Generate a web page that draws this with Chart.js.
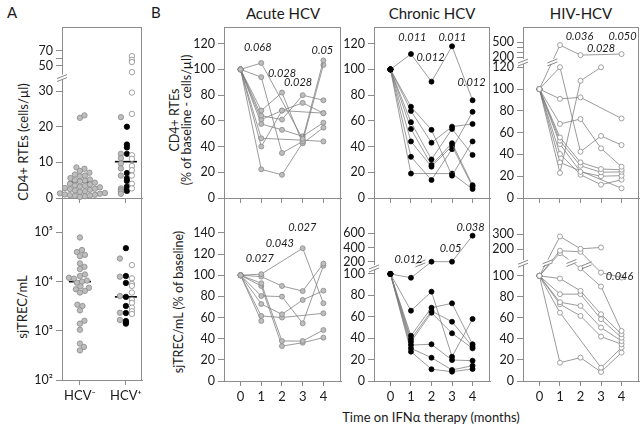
<!DOCTYPE html>
<html>
<head>
<meta charset="utf-8">
<script src="https://cdn.jsdelivr.net/npm/chart.js@4.4.0/dist/chart.umd.min.js"></script>
<style>
  body { margin: 0; width: 643px; height: 431px; position: relative; overflow: hidden; background: #fff; font-family: Lato, sans-serif; color: #1a1a1a; }
  canvas { position: absolute; }
  .t { position: absolute; white-space: nowrap; line-height: 1; }
  .rot { transform: translate(-50%, -50%) rotate(-90deg); }
  .ctr { transform: translate(-50%, -50%); }
</style>
</head>
<body>
<div class="t" style="left:7px;top:5px;font-size:15px">A</div>
<div class="t" style="left:151px;top:5px;font-size:15px">B</div>
<div class="t ctr" style="left:283px;top:13px;font-size:15px">Acute HCV</div>
<div class="t ctr" style="left:432px;top:13px;font-size:15px">Chronic HCV</div>
<div class="t ctr" style="left:581px;top:13px;font-size:15px">HIV-HCV</div>
<div class="t rot" style="left:23px;top:142px;font-size:13px">CD4+ RTEs (cells/µl)</div>
<div class="t rot" style="left:22px;top:307px;font-size:13px">sjTREC/mL</div>
<div class="t rot" style="left:175px;top:120px;font-size:12.5px">CD4+ RTEs</div>
<div class="t rot" style="left:187px;top:120px;font-size:12.5px">(% of baseline - cells/µl)</div>
<div class="t rot" style="left:179px;top:302px;font-size:12.5px">sjTREC/mL (% of baseline)</div>
<div class="t ctr" style="left:431px;top:417px;font-size:13px">Time on IFNα therapy (months)</div>
<script>
// ---------- data ----------
const MONTHS = [0, 1, 2, 3, 4];
const GROUPS = ["HCV⁻", "HCV⁺"];

// panel A, CD4+ RTEs (cells/µl)
const RTE_HCVNEG = [22.5, 23.2, 8.6, 8.2, 7.6, 7.1, 6.6, 6.1, 5.6, 5.2, 4.9, 4.6, 4.3, 4.0, 3.8, 3.5, 3.2, 3.0, 2.8, 2.5, 2.3, 2.1, 1.9, 1.7, 1.5, 1.3, 1.2, 1.0, 0.9, 0.8, 0.6, 0.5, 0.3, 6.3, 5.0, 3.4, 2.6, 1.4, 0.7];
const RTE_HCVPOS_GRAY = [22.7, 12.4, 11.2, 9.7, 8.3, 6.3, 2.7, 2.2, 1.8, 1.2];
const RTE_HCVPOS_BLACK = [20.0, 15.0, 14.2, 12.4, 7.0, 5.5, 4.8, 3.2, 2.5, 2.0];
const RTE_HCVPOS_WHITE = [63, 58, 55, 45, 29.6, 23.6, 12, 11, 9, 7.8, 6.3, 4, 2.7];
const RTE_MEDIANS = [4.5, 10.2];
const RTE_TICKS = [0, 10, 20, 30, 50, 60, 70];
const RTE_TICK_LABELS = ["0", "10", "20", "30", "50", "", "70"];

// panel A, sjTREC/mL
const TREC_HCVNEG = [79000, 44000, 40000, 35000, 33000, 23500, 20000, 18000, 14000, 13000, 12000, 11500, 10500, 10000, 9500, 8000, 7500, 7000, 6500, 6000, 3400, 3200, 2600, 1600, 1400, 1050, 550, 470, 400];
const TREC_HCVPOS_GRAY = [29500, 12600, 5100, 2330, 1660];
const TREC_HCVPOS_BLACK = [48000, 13000, 9400, 4900, 3200, 2300, 1580, 1480, 1400];
const TREC_HCVPOS_WHITE = [21700, 11700, 9000, 8200, 6000, 4250, 3700, 2950, 2500, 2200];
const TREC_MEDIANS = [10000, 4900];
const LOG_TICKS = [100, 1000, 10000, 100000];
const LOG_TICK_LABELS = ["10²", "10³", "10⁴", "10⁵"];

// panel B, % of baseline, one row per patient (months 0..4)
const ACUTE_RTE = [
  [100, 105, null, 46, 107],
  [100, 94, 35, 44, 103.5],
  [100, 68, 82, 42.5, 54.7],
  [100, 64, 61, 80, 76],
  [100, 61, 68, 74, 66],
  [100, 57.6, 53, 48, 58.6],
  [100, 46.4, null, 45, 44],
  [100, 40, 68, null, 66],
  [100, 22.3, 18, 43, null]
];
const CHRONIC_RTE = [
  [100, 112, 90.5, 118, 76],
  [100, 71, 53, 17.4, 44],
  [100, 67.7, 43, 55.5, 57.6],
  [100, 59, 30, 53.7, 33.5],
  [100, 53.7, 25.7, 42.6, 10],
  [100, 44, 24.4, 40.5, 8.8],
  [100, 32, 14, 38, 67],
  [100, 19, null, 19, 7]
];
const HIV_RTE = [
  [100, 443, 240, null, 260],
  [100, 121, 42.5, 57, 48.6],
  [100, 91, 92.4, null, 73],
  [100, 68, 72.5, 45.6, 28.7],
  [100, 55.6, 32.7, 26.6, 26],
  [100, 52.6, 29.6, 23.6, 24],
  [100, 49.5, 24, 20, 20.5],
  [100, 40.4, 21.4, 12.2, 16.8],
  [100, 32.7, null, null, 8.9],
  [100, 23, 107.6, 120, null]
];
const ACUTE_TREC = [
  [100, 101, null, 125.5, 73.5],
  [100, 98.7, 89.8, 85, 111],
  [100, 92.4, 37.8, 37.8, 48.2],
  [100, 89.8, 33, 36.2, 41],
  [100, 80.4, 79.8, 54.5, 109],
  [100, 72.8, 63, 76.6, 85.4],
  [100, 61.5, 60, null, 64],
  [100, 56.8, null, null, null]
];
const CHRONIC_TREC = [
  [100, 96.5, 200, 200, 568],
  [100, 65.7, 83.5, 22.7, 58],
  [100, 42.3, 68.5, 72.6, 34.3],
  [100, 39.2, 65.4, 55.4, 32],
  [100, 36.7, 63.8, 44.6, 30.5],
  [100, 33.6, 34.3, 19.6, 19],
  [100, 30.5, 21.8, 10.3, 14.3],
  [100, 27.4, 11, 8.7, 11.2]
];
const HIV_TREC = [
  [100, 284, 202, 211, null],
  [100, 194, 190, 112, 98.4],
  [100, 185, 128, 89.8, 47.6],
  [100, 97.4, 85.7, 63.5, 44.5],
  [100, 82.6, 82.6, 58.8, 41.2],
  [100, 74.9, 71.4, 50.8, 38],
  [100, 73, 61.9, 42.2, 35],
  [100, 65, null, 12.7, 31.7],
  [100, 17.4, 22.2, 8.6, 27]
];

// p-values [month, value, text]
const P_ACUTE_RTE = [[0.83, 117, "0.068"], [2.0, 97, "0.028"], [2.78, 89.5, "0.028"], [3.95, 115, "0.05"]];
const P_CHRONIC_RTE = [[1.07, 125, "0.011"], [1.95, 109, "0.012"], [3.02, 125, "0.011"], [3.95, 89.5, "0.012"]];
const P_HIV_RTE = [[1.95, 620, "0.036"], [3.0, 380, "0.028"], [4.05, 620, "0.050"]];
const P_ACUTE_TREC = [[0.93, 116, "0.027"], [1.9, 130.5, "0.043"], [2.98, 144.7, "0.027"]];
const P_CHRONIC_TREC = [[0.88, 225, "0.012"], [2.93, 394, "0.05"], [3.9, 690, "0.038"]];
const P_HIV_TREC = [[3.9, 99, "0.046"]];

const PCT_TICKS_120 = [0, 20, 40, 60, 80, 100, 120];
const PCT_TICKS_140 = [0, 20, 40, 60, 80, 100, 120, 140];
const HIV_RTE_TICKS = [0, 20, 40, 60, 80, 100, 120, 200, 300, 400, 500];
const HIV_RTE_LABELS = ["0", "20", "40", "60", "80", "100", "120", "200", "", "", "500"];
const CHRONIC_TREC_TICKS = [0, 20, 40, 60, 80, 100, 200, 400, 600];
const HIV_TREC_TICKS = [0, 20, 40, 60, 80, 100, 200, 300];

// ---------- helpers ----------
const AXIS = "#8c8c8c", TXT = "#1a1a1a", LINE = "#7a7a7a";
const GRAY = { fill: "#bdbdbd", edge: "#8a8a8a" };
const BLACK = { fill: "#000", edge: "#000" };
const WHITE = { fill: "#fff", edge: "#8a8a8a" };
Chart.defaults.font.family = "Lato, sans-serif";

// piecewise linear map used for the broken axes
function broken(segs) {
  return v => {
    for (const [v0, v1, d0, d1] of segs) {
      if (v > v0 && v <= v1) return d0 + (v - v0) * (d1 - d0) / (v1 - v0);
    }
    if (v > segs[segs.length - 1][1]) {
      const [v0, v1, d0, d1] = segs[segs.length - 1];
      return d0 + (v - v0) * (d1 - d0) / (v1 - v0);
    }
    return v;
  };
}
const ident = v => v;
const fA = broken([[30, 50, 30, 37.1], [50, 80, 37.1, 43.4]]);
const fHivTop = broken([[120, 200, 120, 129.4], [200, 600, 129.4, 147.5]]);
const fChrBot = broken([[100, 200, 100, 111.5], [200, 700, 111.5, 144.5]]);
const fHivBot = broken([[100, 200, 100, 125.4], [200, 320, 125.4, 142.6]]);

function slash(ctx, x, y, gap) {
  if (gap) { ctx.fillStyle = "#fff"; ctx.fillRect(x - 4, y - 3, 8, 5); }
  ctx.strokeStyle = "#6a6a6a"; ctx.lineWidth = 0.8;
  ctx.beginPath();
  ctx.moveTo(x - 5, y + 1); ctx.lineTo(x + 5, y - 3);
  ctx.moveTo(x - 5, y + 4); ctx.lineTo(x + 5, y);
  ctx.stroke();
}

const extras = {
  id: "extras",
  afterDatasetsDraw(chart, args, o) {
    const ctx = chart.ctx, a = chart.chartArea, xs = chart.scales.x, ys = chart.scales.y;
    ctx.save();
    ctx.strokeStyle = AXIS; ctx.lineWidth = 1;
    ctx.beginPath();
    if (o.top) { ctx.moveTo(a.left, a.top + 0.5); ctx.lineTo(a.right, a.top + 0.5); }
    ctx.moveTo(a.right - 0.5, a.top); ctx.lineTo(a.right - 0.5, a.bottom);
    ctx.stroke();
    (o.axisBreaks || []).forEach(d => slash(ctx, a.left, ys.getPixelForValue(d), true));
    (o.lineBreaks || []).forEach(p => slash(ctx, xs.getPixelForValue(p[0]), ys.getPixelForValue(p[1]), true));
    ctx.font = "italic 11px Lato, sans-serif"; ctx.fillStyle = TXT;
    ctx.textAlign = "center"; ctx.textBaseline = "middle";
    (o.pvals || []).forEach(p => ctx.fillText(p[2], xs.getPixelForValue(p[0]), ys.getPixelForValue(p[1])));
    ctx.restore();
  }
};

function makeChart(area, s) {
  const [L, T, R, B] = area;
  const yw = s.yw, xh = s.xh, padT = 14, padR = 6;
  const left = L - yw, top = T - padT, w = R + padR - left, h = B + xh - top;
  const cv = document.createElement("canvas");
  Object.assign(cv.style, { left: left + "px", top: top + "px", width: w + "px", height: h + "px" });
  cv.width = w; cv.height = h;
  document.body.appendChild(cv);
  return new Chart(cv, {
    type: "scatter",
    data: { datasets: s.datasets },
    plugins: [extras],
    options: {
      responsive: false, animation: false, devicePixelRatio: 1,
      layout: { padding: { top: padT, right: padR, left: 0, bottom: 0 } },
      plugins: { legend: { display: false }, tooltip: { enabled: false }, extras: s.extras },
      scales: {
        x: {
          type: "linear", min: s.xmin, max: s.xmax,
          afterBuildTicks: sc => { sc.ticks = s.xticks.map(v => ({ value: v })); },
          ticks: { display: !!s.xlabels, autoSkip: false, maxRotation: 0, padding: 3, color: TXT, font: { size: 13 },
                   callback: (v, i) => s.xlabels ? s.xlabels[i] : "" },
          grid: { drawOnChartArea: false, tickLength: 5, color: AXIS },
          border: { color: AXIS, width: 1 },
          afterFit: sc => { sc.height = xh; sc.paddingLeft = 0; sc.paddingRight = 0; }
        },
        y: {
          type: s.log ? "logarithmic" : "linear", min: s.ymin, max: s.ymax,
          afterBuildTicks: sc => { sc.ticks = s.yticks.map(v => ({ value: v })); },
          ticks: { autoSkip: false, padding: 3, color: TXT, font: { size: 12.5 },
                   callback: (v, i) => s.ylabels[i] },
          grid: { drawOnChartArea: false, tickLength: 6, color: AXIS },
          border: { color: AXIS, width: 1 },
          afterFit: sc => { sc.width = yw; sc.paddingTop = 0; sc.paddingBottom = 0; }
        }
      }
    }
  });
}

// beeswarm offsets (px) so dots in one column do not overlap
function swarm(vals, yPx, r) {
  const idx = vals.map((v, i) => i).sort((a, b) => yPx(vals[a]) - yPx(vals[b]));
  const placed = [], off = [];
  idx.forEach(i => {
    const y = yPx(vals[i]);
    for (let k = 0; k < 200; k++) {
      const dx = (k % 2 ? 1 : -1) * Math.ceil(k / 2) * 0.5;
      if (placed.every(p => Math.hypot(p[0] - dx, p[1] - y) >= 2 * r * 0.92)) {
        placed.push([dx, y]); off[i] = dx; break;
      }
    }
  });
  return off;
}

const PXX = 46; // px per group unit in panel A
function dots(vals, center, dx, f, col, yPx) {
  const off = yPx ? swarm(vals, yPx, 2.7) : vals.map(() => 0);
  return {
    data: vals.map((v, i) => ({ x: center + (dx + off[i]) / PXX, y: f(v) })),
    pointRadius: 2.7, pointBackgroundColor: col.fill, pointBorderColor: col.edge, pointBorderWidth: 0.8, clip: false
  };
}
function median(center, val) {
  return { type: "line", data: [{ x: center - 0.24, y: val }, { x: center + 0.24, y: val }],
           borderColor: "#000", borderWidth: 1.6, pointRadius: 0 };
}
function trajectories(rows, f, col) {
  return rows.map(r => ({
    type: "line",
    data: MONTHS.map((m, i) => ({ x: m, y: r[i] == null ? null : f(r[i]) })),
    borderColor: LINE, borderWidth: 0.75, spanGaps: true, tension: 0, clip: false,
    pointRadius: 2.5, pointBackgroundColor: col.fill, pointBorderColor: col.edge, pointBorderWidth: 0.8
  }));
}
const pv = (list, f) => list.map(p => [p[0], f(p[1]), p[2]]);

// ---------- panel A ----------
makeChart([62, 27, 142, 198], {
  yw: 62, xh: 6, xmin: -0.39, xmax: 1.35, xticks: [0, 1],
  ymin: 0, ymax: 48, yticks: RTE_TICKS.map(fA), ylabels: RTE_TICK_LABELS,
  extras: { top: true, axisBreaks: [33.8] },
  datasets: [
    dots(RTE_HCVNEG, 0, 0, fA, GRAY, v => fA(v) * 3.56),
    dots(RTE_HCVPOS_GRAY, 1, -5, fA, GRAY),
    dots(RTE_HCVPOS_WHITE, 1, 6, fA, WHITE),
    dots(RTE_HCVPOS_BLACK, 1, 1, fA, BLACK),
    median(0, RTE_MEDIANS[0]), median(1, RTE_MEDIANS[1])
  ]
});
makeChart([62, 198, 142, 380], {
  yw: 62, xh: 26, xmin: -0.39, xmax: 1.35, xticks: [0, 1], xlabels: GROUPS,
  log: true, ymin: 100, ymax: 502000, yticks: LOG_TICKS, ylabels: LOG_TICK_LABELS,
  extras: {},
  datasets: [
    dots(TREC_HCVNEG, 0, 0, ident, GRAY, v => Math.log10(v) * 49.2),
    dots(TREC_HCVPOS_GRAY, 1, -6, ident, GRAY),
    dots(TREC_HCVPOS_WHITE, 1, 6, ident, WHITE),
    dots(TREC_HCVPOS_BLACK, 1, 0, ident, BLACK),
    median(0, TREC_MEDIANS[0]), median(1, TREC_MEDIANS[1])
  ]
});

// ---------- panel B ----------
const COLS = [
  { L: 224, R: 341, top: ACUTE_RTE, bot: ACUTE_TREC, col: GRAY,
    fTop: ident, topMax: 133, topTicks: PCT_TICKS_120, topLabels: PCT_TICKS_120.map(String), pTop: P_ACUTE_RTE, topBreaks: [], topLineBreaks: [],
    fBot: ident, botMax: 173, botTicks: PCT_TICKS_140, botLabels: PCT_TICKS_140.map(String), pBot: P_ACUTE_TREC, botBreaks: [], botLineBreaks: [] },
  { L: 374, R: 490, top: CHRONIC_RTE, bot: CHRONIC_TREC, col: BLACK,
    fTop: ident, topMax: 133, topTicks: PCT_TICKS_120, topLabels: PCT_TICKS_120.map(String), pTop: P_CHRONIC_RTE, topBreaks: [], topLineBreaks: [],
    fBot: fChrBot, botMax: 171, botTicks: CHRONIC_TREC_TICKS, botLabels: CHRONIC_TREC_TICKS.map(String), pBot: P_CHRONIC_TREC,
    botBreaks: [105.6], botLineBreaks: [[1.46, 190]] },
  { L: 523, R: 639, top: HIV_RTE, bot: HIV_TREC, col: WHITE,
    fTop: fHivTop, topMax: 157, topTicks: HIV_RTE_TICKS, topLabels: HIV_RTE_LABELS, pTop: P_HIV_RTE, topBreaks: [124.8], topLineBreaks: [[0.63, 162]],
    fBot: fHivBot, botMax: 174, botTicks: HIV_TREC_TICKS, botLabels: HIV_TREC_TICKS.map(String), pBot: P_HIV_TREC,
    botBreaks: [112], botLineBreaks: [[0.4, 149], [1.56, 150], [2.3, 141]] }
];

COLS.forEach(c => {
  const xmin = -0.8, xmax = 4.85;
  makeChart([c.L, 27, c.R, 198], {
    yw: 50, xh: 6, xmin, xmax, xticks: MONTHS,
    ymin: 0, ymax: c.topMax, yticks: c.topTicks.map(c.fTop), ylabels: c.topLabels,
    extras: { top: true, pvals: pv(c.pTop, c.fTop), axisBreaks: c.topBreaks,
              lineBreaks: c.topLineBreaks.map(p => [p[0], c.fTop(p[1])]) },
    datasets: trajectories(c.top, c.fTop, c.col)
  });
  makeChart([c.L, 198, c.R, 381], {
    yw: 50, xh: 26, xmin, xmax, xticks: MONTHS, xlabels: MONTHS.map(String),
    ymin: 0, ymax: c.botMax, yticks: c.botTicks.map(c.fBot), ylabels: c.botLabels,
    extras: { pvals: pv(c.pBot, c.fBot), axisBreaks: c.botBreaks,
              lineBreaks: c.botLineBreaks.map(p => [p[0], c.fBot(p[1])]) },
    datasets: trajectories(c.bot, c.fBot, c.col)
  });
});
</script>
</body>
</html>
